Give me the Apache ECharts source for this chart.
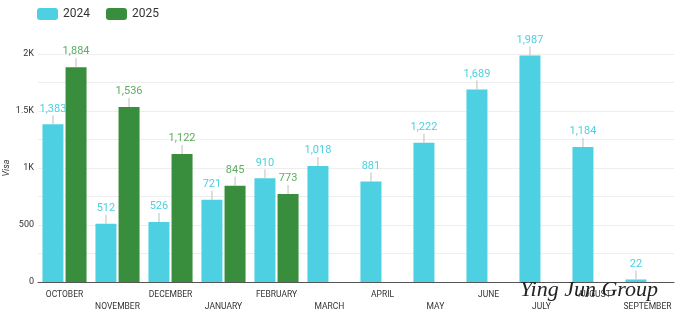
<!DOCTYPE html>
<html>
<head>
<meta charset="utf-8">
<script src="https://cdn.jsdelivr.net/npm/echarts@6/dist/echarts.min.js"></script>
<style>
  html, body { margin: 0; padding: 0; background: #fff; }
  #chart { width: 680px; height: 323px; }
</style>
</head>
<body>
<div id="chart"></div>
<script>
// Monthly visa counts, fiscal year running October to September
const months = ['OCTOBER', 'NOVEMBER', 'DECEMBER', 'JANUARY', 'FEBRUARY', 'MARCH',
                'APRIL', 'MAY', 'JUNE', 'JULY', 'AUGUST', 'SEPTEMBER'];
const visas2024 = [1383, 512, 526, 721, 910, 1018, 881, 1222, 1689, 1987, 1184, 22];
const visas2025 = [1884, 1536, 1122, 845, 773, null, null, null, null, null, null, null];
const yLabels = { 0: '0', 500: '500', 1000: '1K', 1500: '1.5K', 2000: '2K' };

const FONT = 'Roboto, "Noto Sans", sans-serif';

function valueLabel(color) {
  return {
    show: true,
    position: 'top',
    distance: 0,
    formatter: p => '{v|' + p.value.toLocaleString('en-US') + '}\n{l|}',
    rich: {
      v: { color: color, fontSize: 11, fontFamily: FONT, lineHeight: 13 },
      l: { width: 1, height: 9, backgroundColor: '#bdbdbd' }
    }
  };
}

const chart = echarts.init(document.getElementById('chart'));
chart.setOption({
  animation: false,
  legend: {
    left: 37, top: 8, padding: 0,
    itemWidth: 21, itemHeight: 12, itemGap: 16,
    textStyle: { fontSize: 12, color: '#333', fontFamily: FONT },
    data: ['2024', '2025']
  },
  grid: { left: 38, right: 6, top: 54, bottom: 41, containLabel: false, outerBoundsMode: 'none' },
  xAxis: {
    type: 'category',
    data: months,
    axisTick: { show: false },
    axisLine: { lineStyle: { color: '#555', width: 1 } },
    axisLabel: {
      interval: 0,
      margin: 7,
      fontSize: 8.5,
      fontFamily: FONT,
      color: '#333',
      lineHeight: 12,
      formatter: (v, i) => (i % 2 === 1 ? '\n' + v : v)
    }
  },
  yAxis: {
    type: 'value',
    min: 0, max: 2000, interval: 250,
    name: 'Visa',
    nameLocation: 'middle',
    nameGap: 27,
    nameRotate: 90,
    nameMoveOverlap: false,
    nameTextStyle: { fontSize: 9, fontStyle: 'italic', color: '#333', fontFamily: FONT },
    axisLine: { show: false },
    axisTick: { show: false },
    splitLine: { lineStyle: { color: '#eeeeee' } },
    axisLabel: {
      fontSize: 9, color: '#333', fontFamily: FONT, margin: 4,
      formatter: v => (yLabels[v] !== undefined ? yLabels[v] : '')
    }
  },
  series: [
    {
      name: '2024', type: 'bar', data: visas2024,
      barWidth: 21, barGap: '10%',
      itemStyle: { color: '#4dd0e1' },
      label: valueLabel('#4dd0e1')
    },
    {
      name: '2025', type: 'bar', data: visas2025,
      barWidth: 21,
      itemStyle: { color: '#388e3c' },
      label: valueLabel('#5cae60')
    }
  ],
  graphic: [{
    type: 'text',
    left: 520, top: 279,
    z: 100,
    style: {
      text: 'Ying Jun Group',
      font: 'italic 22px "Liberation Serif", "DejaVu Serif", serif',
      fill: '#222'
    }
  }]
});
</script>
</body>
</html>
